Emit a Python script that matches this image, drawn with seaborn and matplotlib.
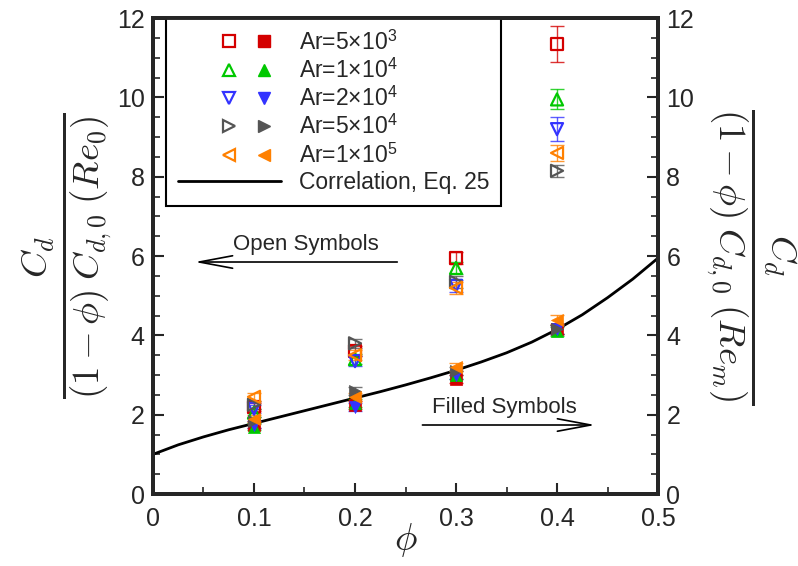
import numpy as np
import pandas as pd
import matplotlib
matplotlib.use("Agg")
import matplotlib.pyplot as plt
import seaborn as sns
from matplotlib.lines import Line2D
from matplotlib.legend_handler import HandlerTuple

sns.set_style("ticks")
plt.rcParams['font.family'] = ['Liberation Sans', 'DejaVu Sans']
plt.rcParams['mathtext.fontset'] = 'cm'

phi = [0.1, 0.2, 0.3, 0.4]
labels = [r'Ar=5×10$^{\mathregular{3}}$', r'Ar=1×10$^{\mathregular{4}}$',
          r'Ar=2×10$^{\mathregular{4}}$', r'Ar=5×10$^{\mathregular{4}}$',
          r'Ar=1×10$^{\mathregular{5}}$']
colors = ['#d40000', '#00c800', '#3333ff', '#555555', '#ff8000']
markers = ['s', '^', 'v', '>', '<']

open_vals = [
    [2.20, 3.60, 5.95, 11.35],
    [2.05, 3.40, 5.70, 9.95],
    [2.15, 3.35, 5.25, 9.20],
    [2.25, 3.80, 5.35, 8.15],
    [2.45, 3.50, 5.20, 8.60],
]
open_err = [
    [0.10, 0.12, 0.15, 0.45],
    [0.10, 0.12, 0.15, 0.25],
    [0.10, 0.12, 0.15, 0.30],
    [0.10, 0.12, 0.15, 0.15],
    [0.10, 0.12, 0.15, 0.20],
]
filled_vals = [
    [1.75, 2.25, 2.90, 4.15],
    [1.70, 2.30, 3.00, 4.10],
    [1.75, 2.20, 3.00, 4.15],
    [1.85, 2.60, 3.10, 4.15],
    [1.90, 2.45, 3.20, 4.40],
]
filled_err = [
    [0.08, 0.10, 0.10, 0.12],
    [0.08, 0.10, 0.10, 0.12],
    [0.08, 0.10, 0.10, 0.12],
    [0.08, 0.10, 0.10, 0.12],
    [0.08, 0.10, 0.10, 0.12],
]

corr_phi = [0.0, 0.025, 0.05, 0.075, 0.1, 0.125, 0.15, 0.175, 0.2, 0.225, 0.25, 0.275,
            0.3, 0.325, 0.35, 0.375, 0.4, 0.425, 0.45, 0.475, 0.5]
corr_val = [1.00, 1.24, 1.44, 1.62, 1.78, 1.94, 2.10, 2.26, 2.42, 2.58, 2.75, 2.93,
            3.12, 3.33, 3.56, 3.83, 4.15, 4.52, 4.95, 5.42, 5.95]

fig = plt.figure(figsize=(7.98, 5.66), dpi=100)
ax = fig.add_axes([0.1917, 0.1272, 0.6329, 0.8408])

corr_df = pd.DataFrame({'phi': corr_phi, 'val': corr_val})
sns.lineplot(data=corr_df, x='phi', y='val', ax=ax, color='black', lw=2.0, zorder=2)

ms = 75
for i in range(5):
    df_o = pd.DataFrame({'phi': phi, 'val': open_vals[i]})
    df_f = pd.DataFrame({'phi': phi, 'val': filled_vals[i]})
    ax.errorbar(phi, open_vals[i], yerr=open_err[i], fmt='none', ecolor=colors[i],
                elinewidth=1.0, capsize=5, alpha=0.8, zorder=3)
    ax.errorbar(phi, filled_vals[i], yerr=filled_err[i], fmt='none', ecolor=colors[i],
                elinewidth=1.0, capsize=5, alpha=0.8, zorder=3)
    sns.scatterplot(data=df_o, x='phi', y='val', ax=ax, marker=markers[i], s=ms,
                    facecolors='none', edgecolor=colors[i], linewidth=1.6, zorder=4)
    sns.scatterplot(data=df_f, x='phi', y='val', ax=ax, marker=markers[i], s=ms,
                    color=colors[i], edgecolor=colors[i], linewidth=0.5, zorder=4)

ax.set_xlim(0, 0.5)
ax.set_ylim(0, 12)
ax.set_xticks([0, 0.1, 0.2, 0.3, 0.4, 0.5])
ax.set_xticklabels(['0', '0.1', '0.2', '0.3', '0.4', '0.5'])
ax.set_xticks(np.arange(0, 0.5001, 0.05), minor=True)
ax.set_yticks([0, 2, 4, 6, 8, 10, 12])
ax.set_yticks(np.arange(0, 12.01, 0.5), minor=True)
ax.tick_params(axis='both', which='major', direction='in', length=8, width=1.5,
               labelsize=18, right=False, top=False)
ax.tick_params(axis='x', which='major', pad=9)
ax.tick_params(axis='y', which='major', pad=6)
ax.tick_params(axis='both', which='minor', direction='in', length=5, width=1.2,
               right=False, top=False)
for sp in ax.spines.values():
    sp.set_linewidth(2.8)
    sp.set_visible(True)

ax.set_xlabel(r'$\phi$', fontsize=27, labelpad=-7)
ax.set_ylabel(r'$\frac{C_d}{(1-\phi)\;C_{d,0}\;(Re_0)}$', fontsize=38, labelpad=2)

ax2 = ax.twinx()
ax2.set_ylim(0, 12)
ax2.set_yticks([0, 2, 4, 6, 8, 10, 12])
ax2.set_yticks(np.arange(0, 12.01, 0.5), minor=True)
ax2.tick_params(axis='y', which='major', direction='in', length=8, width=1.5,
                labelsize=18, pad=6)
ax2.tick_params(axis='y', which='minor', direction='in', length=5, width=1.2)
for sp in ax2.spines.values():
    sp.set_linewidth(2.8)
ax2.set_ylabel(r'$\frac{C_d}{(1-\phi)\;C_{d,0}\;(Re_m)}$', fontsize=38, rotation=270,
               labelpad=74)

# arrows
arrow_style = dict(arrowstyle='->,head_length=2.4,head_width=0.45', lw=1.2, color='black')
ax.annotate('', xy=(0.0386, 5.85), xytext=(0.2446, 5.85), arrowprops=arrow_style)
ax.text(0.079, 6.28, 'Open Symbols', fontsize=16, ha='left', va='center')
ax.annotate('', xy=(0.4406, 1.74), xytext=(0.264, 1.74), arrowprops=arrow_style)
ax.text(0.276, 2.17, 'Filled Symbols', fontsize=16, ha='left', va='center')

# legend
handles = []
for i in range(5):
    h_b = Line2D([], [], ls='none', marker='none')
    h_o = Line2D([], [], ls='none', marker=markers[i], mfc='none', mec=colors[i], ms=8.5, mew=1.6)
    h_f = Line2D([], [], ls='none', marker=markers[i], mfc=colors[i], mec=colors[i], ms=8.5)
    handles.append((h_b, h_o, h_f))
handles.append(Line2D([], [], color='black', lw=2.0))
leg = ax.legend(handles, labels + ['Correlation, Eq. 25'],
                handler_map={tuple: HandlerTuple(ndivide=None, pad=0.044)},
                loc='upper left', bbox_to_anchor=(0.026, 1.0), fontsize=16.5,
                frameon=True, fancybox=False, edgecolor='black', framealpha=1,
                handlelength=4.5, handletextpad=0.8, labelspacing=0.15,
                borderpad=0.5, borderaxespad=0.0)
leg.get_frame().set_linewidth(1.5)

fig.savefig('out.png', dpi=100)
